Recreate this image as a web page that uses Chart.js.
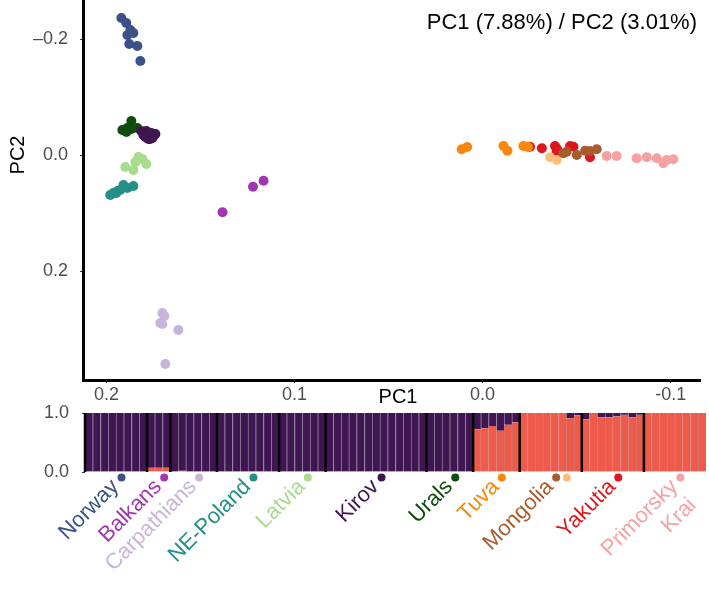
<!DOCTYPE html>
<html>
<head>
<meta charset="utf-8">
<script src="https://cdn.jsdelivr.net/npm/chart.js@4.4.1/dist/chart.umd.min.js"></script>
<style>
  body { margin: 0; background: #fff; }
  #wrap { position: relative; width: 709px; height: 608px; }
  #pca { position: absolute; left: 0; top: 0; }
  #admix { position: absolute; left: 0; top: 400px; }
</style>
</head>
<body>
<div id="wrap">
  <canvas id="pca" width="709" height="410"></canvas>
  <canvas id="admix" width="709" height="208"></canvas>
</div>
<script>
// groups, in the order of the admixture bars
const groupNames = ['Norway', 'Balkans', 'Carpathians', 'NE-Poland', 'Latvia', 'Kirov', 'Urals', 'Tuva', 'Mongolia', 'Yakutia', 'Primorsky Krai'];
const groupColors = ['#3C5189', '#A136B0', '#C8B5D9', '#238F87', '#A9DB8D', '#3F1650', '#0E4D0E', '#FB860C', '#A85B2C', '#E0161D', '#F6A2A3'];
const mongoliaLightColor = '#FDBE7C';

// PCA, [PC1, PC2] per individual
const pcaNorway = [[0.1921, -0.2363], [0.1895, -0.2277], [0.1873, -0.2157], [0.1889, -0.2071], [0.1857, -0.2105], [0.1879, -0.1916], [0.1836, -0.1882], [0.1820, -0.1623]];
const pcaBalkans = [[0.1383, 0.0981], [0.1221, 0.0540], [0.1165, 0.0437]];
const pcaCarpathians = [[0.1703, 0.2714], [0.1703, 0.2904], [0.1618, 0.3007], [0.1687, 0.3592], [0.1714, 0.2886], [0.1692, 0.2766]];
const pcaNEPoland = [[0.1980, 0.0683], [0.1964, 0.0649], [0.1942, 0.0614], [0.1927, 0.0597], [0.1910, 0.0511], [0.1889, 0.0563], [0.1857, 0.0528], [0.1948, 0.0649]];
const pcaLatvia = [[0.1900, 0.0201], [0.1857, 0.0253], [0.1846, 0.0115], [0.1830, 0.0029], [0.1809, 0.0064], [0.1788, 0.0150]];
const pcaKirov = [[0.1815, -0.0418], [0.1799, -0.0384], [0.1783, -0.0332], [0.1767, -0.0281], [0.1751, -0.0332], [0.1740, -0.0367], [0.1788, -0.0418], [0.1772, -0.0367], [0.1756, -0.0298], [0.1804, -0.0349], [0.1778, -0.0281], [0.1762, -0.0384], [0.1794, -0.0315]];
const pcaUrals = [[0.1868, -0.0590], [0.1916, -0.0435], [0.1889, -0.0470], [0.1868, -0.0453], [0.1894, -0.0401], [0.1836, -0.0470]];
const pcaTuva = [[0.0111, -0.0103], [0.0082, -0.0143], [-0.0111, -0.0160], [-0.0132, -0.0079], [-0.0217, -0.0160], [-0.0242, -0.0143]];
const pcaMongolia = [[-0.0429, -0.0034], [-0.0501, -0.0005], [-0.0545, -0.0079], [-0.0607, -0.0103], [-0.0447, -0.0062], [-0.0571, -0.0074]];
const pcaMongoliaLight = [[-0.0359, 0.0034], [-0.0394, 0.0081]];
const pcaYakutia = [[-0.0252, -0.0148], [-0.0315, -0.0120], [-0.0385, -0.0160], [-0.0394, -0.0062], [-0.0465, -0.0160], [-0.0483, -0.0148], [-0.0571, 0.0034], [-0.0396, -0.0108]];
const pcaPrimorsky = [[-0.0660, 0.0012], [-0.0713, 0.0012], [-0.0819, 0.0052], [-0.0873, 0.0034], [-0.0926, 0.0052], [-0.0961, 0.0138], [-0.1014, 0.0069], [-0.0979, 0.0081]];

const pc1Ticks = [0.2, 0.1, 0, -0.1];
const pc1TickLabels = ['0.2', '0.1', '0.0', '-0.1'];
const pc2Ticks = [-0.2, 0, 0.2];
const pc2TickLabels = ['\u20130.2', '0.0', '0.2'];

// ADMIXTURE K=2: share of the eastern component per individual
const admixNorway = [0, 0, 0, 0, 0, 0, 0, 0];
const admixBalkans = [0.07, 0.07, 0.07];
const admixCarpathians = [0, 0.02, 0, 0, 0, 0];
const admixNEPoland = [0, 0, 0, 0, 0, 0, 0, 0];
const admixLatvia = [0, 0, 0, 0, 0, 0];
const admixKirov = [0, 0, 0, 0, 0, 0, 0, 0, 0, 0, 0, 0, 0];
const admixUrals = [0, 0, 0, 0, 0, 0];
const admixTuva = [0.72, 0.74, 0.78, 0.70, 0.80, 0.84];
const admixMongolia = [1, 1, 1, 1, 1, 1, 0.91, 0.96];
const admixYakutia = [0.89, 1, 0.93, 0.93, 0.94, 0.97, 0.93, 0.97];
const admixPrimorsky = [1, 1, 1, 1, 1, 1, 1, 1];

const pcaGroups = [pcaNorway, pcaBalkans, pcaCarpathians, pcaNEPoland, pcaLatvia, pcaKirov, pcaUrals, pcaTuva, pcaMongolia, pcaYakutia, pcaPrimorsky];
const admixGroups = [admixNorway, admixBalkans, admixCarpathians, admixNEPoland, admixLatvia, admixKirov, admixUrals, admixTuva, admixMongolia, admixYakutia, admixPrimorsky];

const FONT = '"Liberation Sans", Arial, Helvetica, sans-serif';
Chart.defaults.font.family = FONT;

// ---------- PCA ----------
const pcaDatasets = pcaGroups.map((pts, g) => ({
  label: groupNames[g],
  data: pts.map(p => ({ x: p[0], y: p[1] })),
  backgroundColor: groupColors[g],
  borderWidth: 0,
  pointRadius: 5
}));
pcaDatasets.splice(9, 0, {
  label: 'Mongolia',
  data: pcaMongoliaLight.map(p => ({ x: p[0], y: p[1] })),
  backgroundColor: mongoliaLightColor,
  borderWidth: 0,
  pointRadius: 5
});

const pcaText = {
  id: 'pcaText',
  afterDraw(chart) {
    const c = chart.ctx;
    c.save();
    c.fillStyle = '#000';
    c.textBaseline = 'middle';
    c.font = '22px ' + FONT;
    c.textAlign = 'right';
    c.fillText('PC1 (7.88%) / PC2 (3.01%)', 697, 23);
    c.font = '20px ' + FONT;
    c.textAlign = 'center';
    c.fillText('PC1', 398, 397);
    c.translate(18, 155);
    c.rotate(-Math.PI / 2);
    c.fillText('PC2', 0, 0);
    c.restore();
  }
};

new Chart(document.getElementById('pca'), {
  type: 'scatter',
  data: { datasets: pcaDatasets },
  options: {
    responsive: false,
    animation: false,
    devicePixelRatio: 1,
    layout: { autoPadding: false, padding: { top: 0, right: 9, bottom: 0, left: 0 } },
    plugins: { legend: { display: false }, tooltip: { enabled: false } },
    scales: {
      x: {
        type: 'linear',
        reverse: true,
        min: -0.1156,
        max: 0.2125,
        afterBuildTicks: s => { s.ticks = pc1Ticks.map(v => ({ value: v })); },
        afterFit: s => { s.height = 30; s.paddingLeft = 0; s.paddingRight = 0; },
        ticks: {
          callback: (v, i) => pc1TickLabels[i],
          color: '#4d4d4d',
          font: { size: 18 },
          padding: 1,
          maxRotation: 0
        },
        grid: { drawOnChartArea: false, tickLength: 3, color: '#333' },
        border: { color: '#000', width: 3 }
      },
      y: {
        type: 'linear',
        reverse: true,
        min: -0.2673,
        max: 0.3867,
        afterBuildTicks: s => { s.ticks = pc2Ticks.map(v => ({ value: v })); },
        afterFit: s => { s.width = 83; s.paddingTop = 0; s.paddingBottom = 0; },
        ticks: {
          callback: (v, i) => pc2TickLabels[i],
          color: '#4d4d4d',
          font: { size: 18 },
          padding: 12
        },
        grid: { drawOnChartArea: false, tickLength: 3, color: '#333' },
        border: { color: '#000', width: 3 }
      }
    }
  },
  plugins: [pcaText]
});

// ---------- ADMIXTURE ----------
const eastShare = admixGroups.flat();
const westShare = eastShare.map(v => +(1 - v).toFixed(2));
const barLabels = eastShare.map((v, i) => String(i + 1));

const groupMarks = {
  id: 'groupMarks',
  afterDatasetsDraw(chart) {
    const c = chart.ctx, xs = chart.scales.x, area = chart.chartArea;
    c.save();
    c.strokeStyle = '#000';
    c.lineWidth = 2.5;
    let start = 0;
    groupNames.forEach((name, g) => {
      const x = xs.getPixelForValue(start - 0.5);
      c.beginPath();
      c.moveTo(x, area.top);
      c.lineTo(x, area.bottom);
      c.stroke();
      start += admixGroups[g].length;
    });
    c.restore();
  },
  afterDraw(chart) {
    const c = chart.ctx, xs = chart.scales.x, area = chart.chartArea;
    const dotY = area.bottom + 5.5;
    c.save();
    let start = 0;
    groupNames.forEach((name, g) => {
      const n = admixGroups[g].length;
      const dx = xs.getPixelForValue(start + n / 2 + 0.2);
      c.fillStyle = groupColors[g];
      c.beginPath();
      c.arc(dx, dotY, 4, 0, Math.PI * 2);
      c.fill();
      if (name === 'Mongolia') {
        c.fillStyle = mongoliaLightColor;
        c.beginPath();
        c.arc(xs.getPixelForValue(start + n / 2 + 1.57), dotY, 4, 0, Math.PI * 2);
        c.fill();
      }
      // rotated group label, ending just left of the dot
      c.save();
      c.translate(dx - 6, dotY + 6);
      c.rotate(-Math.PI / 4);
      c.fillStyle = groupColors[g];
      c.font = '22px ' + FONT;
      c.textAlign = 'right';
      c.textBaseline = 'middle';
      name.split(' ').forEach((line, k) => c.fillText(line, 0, k * 26));
      c.restore();
      start += n;
    });
    c.restore();
  }
};

new Chart(document.getElementById('admix'), {
  type: 'bar',
  data: {
    labels: barLabels,
    datasets: [
      {
        label: 'East',
        data: eastShare,
        backgroundColor: '#F05A4B',
        borderColor: '#C97A72',
        borderWidth: { left: 1, right: 0, top: 0, bottom: 0 },
        borderSkipped: false,
        barPercentage: 1,
        categoryPercentage: 1
      },
      {
        label: 'West',
        data: westShare,
        backgroundColor: '#3F1651',
        borderColor: '#8B7A94',
        borderWidth: { left: 1, right: 0, top: 0, bottom: 0 },
        borderSkipped: false,
        barPercentage: 1,
        categoryPercentage: 1
      }
    ]
  },
  options: {
    responsive: false,
    animation: false,
    devicePixelRatio: 1,
    layout: { padding: { top: 13, right: 3, bottom: 136, left: 0 } },
    plugins: { legend: { display: false }, tooltip: { enabled: false } },
    scales: {
      x: { stacked: true, display: false },
      y: {
        stacked: true,
        min: 0,
        max: 1,
        afterBuildTicks: s => { s.ticks = [{ value: 0 }, { value: 1 }]; },
        afterFit: s => { s.width = 85; s.paddingTop = 0; s.paddingBottom = 0; },
        ticks: {
          callback: v => v.toFixed(1),
          color: '#4d4d4d',
          font: { size: 18 },
          padding: 13
        },
        grid: { drawOnChartArea: false, tickLength: 3, color: '#333' },
        border: { display: false }
      }
    }
  },
  plugins: [groupMarks]
});
</script>
</body>
</html>
